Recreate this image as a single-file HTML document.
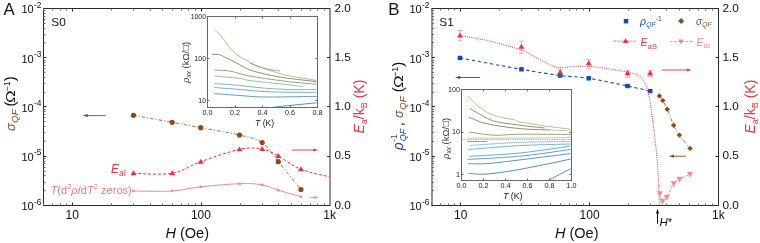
<!DOCTYPE html>
<html><head><meta charset="utf-8"><style>
html,body{margin:0;padding:0;background:#fff;width:760px;height:243px;overflow:hidden;}
svg text{font-family:"Liberation Sans", sans-serif;}
svg{will-change:transform;}
</style></head><body>
<svg width="760" height="243" viewBox="0 0 760 243" style="display:block" font-family='"Liberation Sans", sans-serif'>
<rect width="760" height="243" fill="#fff"/>
<path d="M43,8.5 H330 M43.5,8.5 V205.5 M43,205.5 H330" stroke="#2b2b2b" stroke-width="1" fill="none"/>
<path d="M330,8 V206" stroke="#2b2b2b" stroke-width="1" fill="none"/>
<path d="M43.5,8.5 h3 M43.5,57.5 h3 M43.5,106.5 h3 M43.5,156.5 h3 M43.5,205.5 h3 M330,205.5 h-3 M330,156.5 h-3 M330,106.5 h-3 M330,57.5 h-3 M330,8.5 h-3 M72.5,205.5 v-3 M72.5,8.5 v3 M201.5,205.5 v-3 M201.5,8.5 v3" stroke="#2b2b2b" stroke-width="1" fill="none"/>
<path d="M43.5,42.5 h2 M43.5,34.5 h2 M43.5,28.5 h2 M43.5,23.5 h2 M43.5,19.5 h2 M43.5,16.5 h2 M43.5,13.5 h2 M43.5,10.5 h2 M43.5,92.5 h2 M43.5,83.5 h2 M43.5,77.5 h2 M43.5,72.5 h2 M43.5,68.5 h2 M43.5,65.5 h2 M43.5,62.5 h2 M43.5,60.5 h2 M43.5,141.5 h2 M43.5,132.5 h2 M43.5,126.5 h2 M43.5,121.5 h2 M43.5,117.5 h2 M43.5,114.5 h2 M43.5,111.5 h2 M43.5,109.5 h2 M43.5,190.5 h2 M43.5,182.5 h2 M43.5,175.5 h2 M43.5,171.5 h2 M43.5,167.5 h2 M43.5,163.5 h2 M43.5,161.5 h2 M43.5,158.5 h2 M43.5,205.5 v-2 M43.5,8.5 v2 M52.5,205.5 v-2 M52.5,8.5 v2 M60.5,205.5 v-2 M60.5,8.5 v2 M66.5,205.5 v-2 M66.5,8.5 v2 M111.5,205.5 v-2 M111.5,8.5 v2 M133.5,205.5 v-2 M133.5,8.5 v2 M150.5,205.5 v-2 M150.5,8.5 v2 M162.5,205.5 v-2 M162.5,8.5 v2 M172.5,205.5 v-2 M172.5,8.5 v2 M181.5,205.5 v-2 M181.5,8.5 v2 M188.5,205.5 v-2 M188.5,8.5 v2 M195.5,205.5 v-2 M195.5,8.5 v2 M240.5,205.5 v-2 M240.5,8.5 v2 M262.5,205.5 v-2 M262.5,8.5 v2 M278.5,205.5 v-2 M278.5,8.5 v2 M291.5,205.5 v-2 M291.5,8.5 v2 M301.5,205.5 v-2 M301.5,8.5 v2 M310.5,205.5 v-2 M310.5,8.5 v2 M317.5,205.5 v-2 M317.5,8.5 v2 M324.5,205.5 v-2 M324.5,8.5 v2" stroke="#6a6a6a" stroke-width="1" fill="none"/>
<text x="21.5" y="13.3" font-size="11" fill="#111">10<tspan font-size="8.4" dy="-5.6" dx="0.2">-2</tspan></text>
<text x="21.5" y="62.55" font-size="11" fill="#111">10<tspan font-size="8.4" dy="-5.6" dx="0.2">-3</tspan></text>
<text x="21.5" y="111.8" font-size="11" fill="#111">10<tspan font-size="8.4" dy="-5.6" dx="0.2">-4</tspan></text>
<text x="21.5" y="161.05" font-size="11" fill="#111">10<tspan font-size="8.4" dy="-5.6" dx="0.2">-5</tspan></text>
<text x="21.5" y="210.3" font-size="11" fill="#111">10<tspan font-size="8.4" dy="-5.6" dx="0.2">-6</tspan></text>
<text x="72.2" y="219.4" font-size="12" fill="#111" text-anchor="middle" >10</text>
<text x="200.95" y="219.4" font-size="12" fill="#111" text-anchor="middle" >100</text>
<text x="329.7" y="219.4" font-size="12" fill="#111" text-anchor="middle" >1k</text>
<text x="334.5" y="208.5" font-size="11.8" fill="#111" text-anchor="start" >0.0</text>
<text x="334.5" y="159.25" font-size="11.8" fill="#111" text-anchor="start" >0.5</text>
<text x="334.5" y="110" font-size="11.8" fill="#111" text-anchor="start" >1.0</text>
<text x="334.5" y="60.75" font-size="11.8" fill="#111" text-anchor="start" >1.5</text>
<text x="334.5" y="11.5" font-size="11.8" fill="#111" text-anchor="start" >2.0</text>
<text x="3.5" y="15" font-size="16.8" fill="#111" text-anchor="start" >A</text>
<text x="51.3" y="26.2" font-size="11.8" fill="#111" text-anchor="start" >S0</text>
<text x="165.5" y="237.5" font-size="14.5" fill="#111"><tspan font-style="italic">H</tspan> (Oe)</text>
<path d="M431.5,8.5 H718.5 M432,8.5 V205.5 M431.5,205.5 H718.5" stroke="#2b2b2b" stroke-width="1" fill="none"/>
<path d="M718.5,8 V206" stroke="#2b2b2b" stroke-width="1" fill="none"/>
<path d="M432,8.5 h3 M432,57.5 h3 M432,106.5 h3 M432,156.5 h3 M432,205.5 h3 M718.5,205.5 h-3 M718.5,156.5 h-3 M718.5,106.5 h-3 M718.5,57.5 h-3 M718.5,8.5 h-3 M460.5,205.5 v-3 M460.5,8.5 v3 M589.5,205.5 v-3 M589.5,8.5 v3" stroke="#2b2b2b" stroke-width="1" fill="none"/>
<path d="M432,42.5 h2 M432,34.5 h2 M432,28.5 h2 M432,23.5 h2 M432,19.5 h2 M432,16.5 h2 M432,13.5 h2 M432,10.5 h2 M432,92.5 h2 M432,83.5 h2 M432,77.5 h2 M432,72.5 h2 M432,68.5 h2 M432,65.5 h2 M432,62.5 h2 M432,60.5 h2 M432,141.5 h2 M432,132.5 h2 M432,126.5 h2 M432,121.5 h2 M432,117.5 h2 M432,114.5 h2 M432,111.5 h2 M432,109.5 h2 M432,190.5 h2 M432,182.5 h2 M432,175.5 h2 M432,171.5 h2 M432,167.5 h2 M432,163.5 h2 M432,161.5 h2 M432,158.5 h2 M431.5,205.5 v-2 M431.5,8.5 v2 M440.5,205.5 v-2 M440.5,8.5 v2 M448.5,205.5 v-2 M448.5,8.5 v2 M454.5,205.5 v-2 M454.5,8.5 v2 M499.5,205.5 v-2 M499.5,8.5 v2 M521.5,205.5 v-2 M521.5,8.5 v2 M538.5,205.5 v-2 M538.5,8.5 v2 M550.5,205.5 v-2 M550.5,8.5 v2 M560.5,205.5 v-2 M560.5,8.5 v2 M569.5,205.5 v-2 M569.5,8.5 v2 M576.5,205.5 v-2 M576.5,8.5 v2 M583.5,205.5 v-2 M583.5,8.5 v2 M628.5,205.5 v-2 M628.5,8.5 v2 M650.5,205.5 v-2 M650.5,8.5 v2 M666.5,205.5 v-2 M666.5,8.5 v2 M679.5,205.5 v-2 M679.5,8.5 v2 M689.5,205.5 v-2 M689.5,8.5 v2 M698.5,205.5 v-2 M698.5,8.5 v2 M705.5,205.5 v-2 M705.5,8.5 v2 M712.5,205.5 v-2 M712.5,8.5 v2" stroke="#6a6a6a" stroke-width="1" fill="none"/>
<text x="409.5" y="13.3" font-size="11" fill="#111">10<tspan font-size="8.4" dy="-5.6" dx="0.2">-2</tspan></text>
<text x="409.5" y="62.55" font-size="11" fill="#111">10<tspan font-size="8.4" dy="-5.6" dx="0.2">-3</tspan></text>
<text x="409.5" y="111.8" font-size="11" fill="#111">10<tspan font-size="8.4" dy="-5.6" dx="0.2">-4</tspan></text>
<text x="409.5" y="161.05" font-size="11" fill="#111">10<tspan font-size="8.4" dy="-5.6" dx="0.2">-5</tspan></text>
<text x="409.5" y="210.3" font-size="11" fill="#111">10<tspan font-size="8.4" dy="-5.6" dx="0.2">-6</tspan></text>
<text x="460.8" y="219.4" font-size="12" fill="#111" text-anchor="middle" >10</text>
<text x="589.55" y="219.4" font-size="12" fill="#111" text-anchor="middle" >100</text>
<text x="718.3" y="219.4" font-size="12" fill="#111" text-anchor="middle" >1k</text>
<text x="722.5" y="208.5" font-size="11.8" fill="#111" text-anchor="start" >0.0</text>
<text x="722.5" y="159.25" font-size="11.8" fill="#111" text-anchor="start" >0.5</text>
<text x="722.5" y="110" font-size="11.8" fill="#111" text-anchor="start" >1.0</text>
<text x="722.5" y="60.75" font-size="11.8" fill="#111" text-anchor="start" >1.5</text>
<text x="722.5" y="11.5" font-size="11.8" fill="#111" text-anchor="start" >2.0</text>
<text x="388.2" y="15" font-size="16.8" fill="#111" text-anchor="start" >B</text>
<text x="439.3" y="26.2" font-size="11.8" fill="#111" text-anchor="start" >S1</text>
<text x="555" y="237.5" font-size="14.5" fill="#111"><tspan font-style="italic">H</tspan> (Oe)</text>
<text transform="translate(15,131) rotate(-90)" font-size="15" fill="#111"><tspan fill="#8a4a1c" font-style="italic" font-size="12.8">σ</tspan><tspan fill="#8a4a1c" font-size="9.8" dy="3" dx="0.3" font-style="italic">QF</tspan><tspan dy="-3" dx="-1.2"> (</tspan></text>
<text transform="translate(15,103) rotate(-90) scale(1.25,1)" font-size="13.5" fill="#111">Ω</text>
<text transform="translate(15,91.5) rotate(-90)" font-size="15" fill="#111"><tspan font-size="9" dy="-5.5">−1</tspan><tspan dy="5.5">)</tspan></text>
<text transform="translate(364,133.5) rotate(-90)" font-size="14" fill="#f0303c"><tspan font-style="italic">E</tspan><tspan font-size="9" dy="3">a</tspan><tspan dy="-3">/k</tspan><tspan font-size="9" dy="3">B</tspan><tspan dy="-3"> (K)</tspan></text>
<text transform="translate(754.5,133.5) rotate(-90)" font-size="14" fill="#f0303c"><tspan font-style="italic">E</tspan><tspan font-size="9" dy="3">a</tspan><tspan dy="-3">/k</tspan><tspan font-size="9" dy="3">B</tspan><tspan dy="-3"> (K)</tspan></text>
<text transform="translate(403,150.3) rotate(-90)" font-size="15" fill="#111"><tspan fill="#1a48b4" font-style="italic" font-size="13.8">ρ</tspan><tspan fill="#1a48b4" font-size="9" dy="-6" dx="0.5">-1</tspan><tspan fill="#1a48b4" font-size="9" dx="-7.3" dy="9" font-style="italic">QF</tspan><tspan dy="-3" dx="-1.8"> , </tspan><tspan fill="#8a4a1c" font-style="italic" font-size="12.8">σ</tspan><tspan fill="#8a4a1c" font-size="9.8" dy="3" dx="0.3" font-style="italic">QF</tspan><tspan dy="-3" dx="-0.2"> (</tspan></text>
<text transform="translate(403,87.9) rotate(-90) scale(1.25,1)" font-size="13.5" fill="#111">Ω</text>
<text transform="translate(403,77) rotate(-90)" font-size="15" fill="#111"><tspan font-size="9" dy="-5.5">−1</tspan><tspan dy="5.5">)</tspan></text>
<path d="M133.43,191 C139.89,191 160.97,191.7 172.19,191 C183.41,190.3 189.53,188.02 200.75,186.8 C211.97,185.58 229.27,184.03 239.51,183.7 C249.75,183.37 255.72,183.72 262.18,184.8 C268.64,185.88 271.81,188.22 278.27,190.2 C284.72,192.18 297.16,195.62 300.94,196.7" stroke="#f58a8a" stroke-width="1" fill="none"/>
<rect x="132.23" y="189.8" width="2.4" height="2.4" fill="#f58a8a"/>
<rect x="170.99" y="189.8" width="2.4" height="2.4" fill="#f58a8a"/>
<rect x="199.55" y="185.6" width="2.4" height="2.4" fill="#f58a8a"/>
<rect x="238.31" y="182.5" width="2.4" height="2.4" fill="#f58a8a"/>
<rect x="260.98" y="183.6" width="2.4" height="2.4" fill="#f58a8a"/>
<rect x="277.07" y="189" width="2.4" height="2.4" fill="#f58a8a"/>
<rect x="299.74" y="195.5" width="2.4" height="2.4" fill="#f58a8a"/>
<path d="M133.43,173.3 C139.89,173.3 160.97,175.23 172.19,173.3 C183.41,171.37 189.53,165.68 200.75,161.7 C211.97,157.72 229.27,151.52 239.51,149.4 C249.75,147.28 255.72,147.9 262.18,149 C268.64,150.1 271.81,152.62 278.27,156 C284.72,159.38 292.4,165.83 300.94,169.3 C309.48,172.77 324.74,175.55 329.5,176.8" stroke="#f0303c" stroke-width="1" fill="none" stroke-dasharray="3,1.9"/>
<path d="M133.43,170.35 L136.43,175.27 L130.43,175.27 Z" fill="#f0303c"/>
<path d="M172.19,170.35 L175.19,175.27 L169.19,175.27 Z" fill="#f0303c"/>
<path d="M200.75,158.75 L203.75,163.67 L197.75,163.67 Z" fill="#f0303c"/>
<path d="M239.51,146.45 L242.51,151.37 L236.51,151.37 Z" fill="#f0303c"/>
<path d="M262.18,146.05 L265.18,150.97 L259.18,150.97 Z" fill="#f0303c"/>
<path d="M278.27,153.05 L281.27,157.97 L275.27,157.97 Z" fill="#f0303c"/>
<path d="M300.94,166.35 L303.94,171.27 L297.94,171.27 Z" fill="#f0303c"/>
<path d="M133.43,115.3 C139.89,116.47 160.97,120.23 172.19,122.3 C183.41,124.37 189.53,125.58 200.75,127.7 C211.97,129.82 229.27,132.52 239.51,135 C249.75,137.48 255.72,138.15 262.18,142.6 C268.64,147.05 271.81,153.88 278.27,161.7 C284.72,169.52 297.16,184.87 300.94,189.5" stroke="#8a4a1c" stroke-width="0.8" fill="none" stroke-dasharray="3.5,2,1,2"/>
<circle cx="133.43" cy="115.3" r="2.6" fill="#8a4a1c"/>
<circle cx="172.19" cy="122.3" r="2.6" fill="#8a4a1c"/>
<circle cx="200.75" cy="127.7" r="2.6" fill="#8a4a1c"/>
<circle cx="239.51" cy="135" r="2.6" fill="#8a4a1c"/>
<circle cx="262.18" cy="142.6" r="2.6" fill="#8a4a1c"/>
<circle cx="278.27" cy="161.7" r="2.6" fill="#8a4a1c"/>
<circle cx="300.94" cy="189.5" r="2.6" fill="#8a4a1c"/>
<path d="M105.6,115.6 H85.8" stroke="#8a4a1c" stroke-width="0.9"/>
<path d="M82.8,115.6 L87.8,114 L87.8,117.2 Z" fill="#8a4a1c"/>
<path d="M291.7,150 H315.3" stroke="#f0303c" stroke-width="0.9"/>
<path d="M318.3,150 L313.3,148.4 L313.3,151.6 Z" fill="#f0303c"/>
<path d="M309,197.4 H316" stroke="#f58a8a" stroke-width="0.9"/>
<path d="M318.4,197.4 L314.4,195.9 L314.4,198.9 Z" fill="#f58a8a"/>
<text x="111" y="172.8" font-size="12" fill="#f0303c"><tspan font-style="italic">E</tspan><tspan font-size="8.5" dy="2.8">aI</tspan></text>
<text x="50.5" y="194" font-size="11.1" fill="#f07878"><tspan font-style="italic">T</tspan>(d<tspan font-size="7.5" dy="-5">2</tspan><tspan font-style="italic" dy="5">ρ</tspan>/d<tspan font-style="italic">T</tspan><tspan font-size="7.5" dy="-5">2</tspan><tspan dy="5"> zeros)</tspan></text>
<rect x="207.5" y="16.5" width="110" height="91" fill="#fff" stroke="#6a6a6a" stroke-width="1"/>
<path d="M207.5,107.5 v-2 M207.5,16.5 v2 M235.5,107.5 v-2 M235.5,16.5 v2 M262.5,107.5 v-2 M262.5,16.5 v2 M290.5,107.5 v-2 M290.5,16.5 v2 M317.5,107.5 v-2 M317.5,16.5 v2 M207.5,16.5 h2 M317.5,16.5 h-2 M207.5,58.5 h2 M317.5,58.5 h-2 M207.5,100.5 h2 M317.5,100.5 h-2" stroke="#6a6a6a" stroke-width="1" fill="none"/>
<text x="206" y="18.5" font-size="6.9" fill="#222" text-anchor="end" >1000</text>
<text x="206" y="60.6" font-size="6.9" fill="#222" text-anchor="end" >100</text>
<text x="206" y="102.7" font-size="6.9" fill="#222" text-anchor="end" >10</text>
<text x="207.5" y="115.3" font-size="7.2" fill="#222" text-anchor="middle" >0.0</text>
<text x="235" y="115.3" font-size="7.2" fill="#222" text-anchor="middle" >0.2</text>
<text x="262.5" y="115.3" font-size="7.2" fill="#222" text-anchor="middle" >0.4</text>
<text x="290" y="115.3" font-size="7.2" fill="#222" text-anchor="middle" >0.6</text>
<text x="317.5" y="115.3" font-size="7.2" fill="#222" text-anchor="middle" >0.8</text>
<text x="255" y="126" font-size="8.6" fill="#222"><tspan font-style="italic">T</tspan> (K)</text>
<text transform="translate(189,83) rotate(-90)" font-size="9.5" fill="#333"><tspan font-style="italic">ρ</tspan><tspan font-size="6.5" dy="2" font-style="italic">xx</tspan><tspan dy="-2"> (kΩ/□)</tspan></text>
<path d="M214.7,30.1 C215.43,30.75 217.43,32.23 219.1,34 C220.77,35.77 222.98,38.48 224.7,40.7 C226.42,42.92 227.13,44.78 229.4,47.3 C231.67,49.82 234.97,53.38 238.3,55.8 C241.63,58.22 246.33,60.13 249.4,61.8 C252.47,63.47 252.9,64.23 256.7,65.8 C260.5,67.37 267.32,69.63 272.2,71.2 C277.08,72.77 278.62,73.67 286,75.2 C293.38,76.73 311.42,79.53 316.5,80.4" stroke="#a8a060" stroke-width="0.75" fill="none"/>
<path d="M250,63.3 C252.4,64.13 259.4,67 264.4,68.3 C269.4,69.6 277.4,70.63 280,71.1" stroke="#8a8a80" stroke-width="0.75" fill="none"/>
<path d="M211.7,54.4 C212.98,54.45 216.82,54.03 219.4,54.7 C221.98,55.37 224.43,57.07 227.2,58.4 C229.97,59.73 232.2,60.77 236,62.7 C239.8,64.63 244.88,68.05 250,70 C255.12,71.95 260.7,73.07 266.7,74.4 C272.7,75.73 277.7,76.8 286,78 C294.3,79.2 311.42,81 316.5,81.6" stroke="#6e6a40" stroke-width="0.75" fill="none"/>
<path d="M214.3,70.1 C216.92,70.27 224.05,70.1 230,71.1 C235.95,72.1 240.67,74.4 250,76.1 C259.33,77.8 274.92,79.93 286,81.3 C297.08,82.67 311.42,83.8 316.5,84.3" stroke="#6a8a50" stroke-width="0.75" fill="none"/>
<path d="M214.5,76 C218.75,76.42 234.08,77.73 240,78.5 C245.92,79.27 242.33,79.6 250,80.6 C257.67,81.6 277.18,83.5 286,84.5 C294.82,85.5 300.08,86.25 302.9,86.6" stroke="#8a9a8a" stroke-width="0.75" fill="none"/>
<path d="M214.5,83.5 C218.75,83.83 231.63,84.72 240,85.5 C248.37,86.28 256.17,87.52 264.7,88.2 C273.23,88.88 282.57,89.4 291.2,89.6 C299.83,89.8 312.28,89.43 316.5,89.4" stroke="#5a98b8" stroke-width="0.75" fill="none"/>
<path d="M214.5,87.5 C218.75,87.83 231.63,88.82 240,89.5 C248.37,90.18 255.93,91.13 264.7,91.6 C273.47,92.07 283.97,92.18 292.6,92.3 C301.23,92.42 312.52,92.3 316.5,92.3" stroke="#4a90c0" stroke-width="0.75" fill="none"/>
<path d="M214.5,93.6 C218.75,93.92 231.63,94.93 240,95.5 C248.37,96.07 251.95,96.85 264.7,97 C277.45,97.15 307.87,96.5 316.5,96.4" stroke="#2a78c0" stroke-width="0.75" fill="none"/>
<path d="M272,107.5 C273.4,107.33 272.98,107.28 280.4,106.5 C287.82,105.72 310.48,103.42 316.5,102.8" stroke="#2060b0" stroke-width="0.75" fill="none"/>
<path d="M460,58 C470.24,59.88 504.73,66.38 521.43,69.3 C538.13,72.22 548.97,74 560.19,75.5 C571.41,77 577.53,76.55 588.75,78.3 C599.97,80.05 617.27,83.87 627.51,86 C637.75,88.13 646.4,90.25 650.18,91.1" stroke="#1a48b4" stroke-width="1.1" fill="none" stroke-dasharray="3.3,2.8"/>
<rect x="457.7" y="55.8" width="4.6" height="4.4" fill="#1a48b4"/>
<rect x="519.13" y="67.1" width="4.6" height="4.4" fill="#1a48b4"/>
<rect x="557.89" y="73.3" width="4.6" height="4.4" fill="#1a48b4"/>
<rect x="586.45" y="76.1" width="4.6" height="4.4" fill="#1a48b4"/>
<rect x="625.21" y="83.8" width="4.6" height="4.4" fill="#1a48b4"/>
<rect x="647.88" y="88.9" width="4.6" height="4.4" fill="#1a48b4"/>
<path d="M460.5,35.5 C465.42,36.43 479.9,38.68 490,41.1 C500.1,43.52 513.7,47.4 521.1,50 C528.5,52.6 530.42,54.67 534.4,56.7 C538.38,58.73 541.07,60.4 545,62.2 C548.93,64 553,66.82 558,67.5 C563,68.18 569.67,66.47 575,66.3 C580.33,66.13 585,66.18 590,66.5 C595,66.82 598.7,67.25 605,68.2 C611.3,69.15 622.52,71.13 627.8,72.2 C633.08,73.27 634.12,73.3 636.7,74.6 C639.28,75.9 641.28,76.6 643.3,80 C645.32,83.4 647.22,88.05 648.8,95 C650.38,101.95 651.58,112.7 652.8,121.7 C654.02,130.7 655.15,139.28 656.1,149 C657.05,158.72 657.95,170.67 658.5,180 C659.05,189.33 659.25,200.83 659.4,205" stroke="#f0303c" stroke-width="1" fill="none" stroke-dasharray="1,1.2"/>
<path d="M460,30.5 V40.7 M457.5,30.5 h5 M457.5,40.7 h5" stroke="#f0303c" stroke-width="0.7" fill="none" opacity="0.6"/>
<path d="M460,32.55 L463,37.47 L457,37.47 Z" fill="#f0303c"/>
<path d="M521.43,41.1 V53.3 M518.93,41.1 h5 M518.93,53.3 h5" stroke="#f0303c" stroke-width="0.7" fill="none" opacity="0.6"/>
<path d="M521.43,43.75 L524.43,48.67 L518.43,48.67 Z" fill="#f0303c"/>
<path d="M560.19,69.5 V75.5 M557.69,69.5 h5 M557.69,75.5 h5" stroke="#f0303c" stroke-width="0.7" fill="none" opacity="0.6"/>
<path d="M560.19,69.25 L563.19,74.17 L557.19,74.17 Z" fill="#f0303c"/>
<path d="M588.75,59.4 V68.9 M586.25,59.4 h5 M586.25,68.9 h5" stroke="#f0303c" stroke-width="0.7" fill="none" opacity="0.6"/>
<path d="M588.75,60.35 L591.75,65.27 L585.75,65.27 Z" fill="#f0303c"/>
<path d="M627.51,70.6 V77.2 M625.01,70.6 h5 M625.01,77.2 h5" stroke="#f0303c" stroke-width="0.7" fill="none" opacity="0.6"/>
<path d="M627.51,70.35 L630.51,75.27 L624.51,75.27 Z" fill="#f0303c"/>
<path d="M650.18,70.6 V76.5 M647.68,70.6 h5 M647.68,76.5 h5" stroke="#f0303c" stroke-width="0.7" fill="none" opacity="0.6"/>
<path d="M650.18,70.35 L653.18,75.27 L647.18,75.27 Z" fill="#f0303c"/>
<path d="M659.7,193.5 C660.17,194.75 661.32,200.38 662.5,201 C663.68,201.62 664.93,200.1 666.8,197.2 C668.67,194.3 671.57,186.62 673.7,183.6 C675.83,180.58 676.88,180.65 679.6,179.1 C682.32,177.55 688.27,175.1 690,174.3" stroke="#f58a8a" stroke-width="1" fill="none" stroke-dasharray="2.5,1.5"/>
<path d="M659.7,196.92 L662.7,191.22 L656.7,191.22 Z" fill="#f58a8a"/>
<path d="M662.5,204.42 L665.5,198.72 L659.5,198.72 Z" fill="#f58a8a"/>
<path d="M666.8,200.62 L669.8,194.92 L663.8,194.92 Z" fill="#f58a8a"/>
<path d="M673.7,187.02 L676.7,181.32 L670.7,181.32 Z" fill="#f58a8a"/>
<path d="M679.6,182.52 L682.6,176.82 L676.6,176.82 Z" fill="#f58a8a"/>
<path d="M690,177.72 L693,172.02 L687,172.02 Z" fill="#f58a8a"/>
<path d="M659.4,95.9 C659.97,96.68 661.5,98.38 662.8,100.6 C664.1,102.82 665.38,105.08 667.2,109.2 C669.02,113.32 671.67,120.98 673.7,125.3 C675.73,129.62 676.68,131.25 679.4,135.1 C682.12,138.95 688.23,146.18 690,148.4" stroke="#8a4a1c" stroke-width="0.8" fill="none" stroke-dasharray="3.5,2,1,2"/>
<path d="M659.4,93.2 l2.7,2.7 l-2.7,2.7 l-2.7,-2.7 Z" fill="#8a4a1c"/>
<path d="M662.8,97.9 l2.7,2.7 l-2.7,2.7 l-2.7,-2.7 Z" fill="#8a4a1c"/>
<path d="M667.2,106.5 l2.7,2.7 l-2.7,2.7 l-2.7,-2.7 Z" fill="#8a4a1c"/>
<path d="M673.7,122.6 l2.7,2.7 l-2.7,2.7 l-2.7,-2.7 Z" fill="#8a4a1c"/>
<path d="M679.4,132.4 l2.7,2.7 l-2.7,2.7 l-2.7,-2.7 Z" fill="#8a4a1c"/>
<path d="M690,145.7 l2.7,2.7 l-2.7,2.7 l-2.7,-2.7 Z" fill="#8a4a1c"/>
<path d="M480,77.5 H458" stroke="#1a48b4" stroke-width="0.9"/>
<path d="M455,77.5 L460,75.9 L460,79.1 Z" fill="#1a48b4"/>
<path d="M661.7,70 H688.7" stroke="#f0303c" stroke-width="0.9"/>
<path d="M691.7,70 L686.7,68.4 L686.7,71.6 Z" fill="#f0303c"/>
<path d="M686.1,156.2 H671.9" stroke="#8a4a1c" stroke-width="0.9"/>
<path d="M668.9,156.2 L673.9,154.6 L673.9,157.8 Z" fill="#8a4a1c"/>
<path d="M657.5,223.8 V212" stroke="#111" stroke-width="1"/>
<path d="M657.5,208.4 L659,213.5 L656,213.5 Z" fill="#111"/>
<text x="659.5" y="226.2" font-size="11.5" fill="#111"><tspan font-style="italic">H</tspan><tspan font-size="10.5" dx="0.3">*</tspan></text>
<rect x="623.8" y="19" width="4.4" height="4.4" fill="#1a48b4"/>
<text x="640" y="25" font-size="10.5" fill="#1a48b4"><tspan font-style="italic">ρ</tspan><tspan font-size="6.6" dy="1.8" dx="0.3" font-style="italic">QF</tspan><tspan font-size="6.6" dy="-6.3" dx="0.3">-1</tspan></text>
<path d="M681.1,18.1 l3,3 l-3,3 l-3,-3 Z" fill="#8a4a1c"/>
<text x="696" y="25" font-size="10" fill="#8a4a1c"><tspan font-style="italic">σ</tspan><tspan font-size="6.8" dy="2.2" dx="0.3" font-style="italic">QF</tspan></text>
<path d="M612.8,41.1 H636.7" stroke="#f0303c" stroke-width="1" stroke-dasharray="1,1.2"/>
<path d="M625.6,38.15 L628.6,43.07 L622.6,43.07 Z" fill="#f0303c"/>
<text x="640.5" y="45.6" font-size="10.5" fill="#f0303c"><tspan font-style="italic">E</tspan><tspan font-size="7.6" dy="3" dx="0.3">aS</tspan></text>
<path d="M670,41.6 H693.3" stroke="#f58a8a" stroke-width="1" stroke-dasharray="2.5,1.5"/>
<path d="M681.1,44.46 L683.7,39.52 L678.5,39.52 Z" fill="#f58a8a"/>
<text x="696.5" y="45.6" font-size="10.5" fill="#f58a8a"><tspan font-style="italic">E</tspan><tspan font-size="8" dy="2.5">aI</tspan></text>
<rect x="461.5" y="89.5" width="110" height="91" fill="#fff" stroke="#6a6a6a" stroke-width="1"/>
<path d="M461.5,180.5 v-2 M461.5,89.5 v2 M483.5,180.5 v-2 M483.5,89.5 v2 M505.5,180.5 v-2 M505.5,89.5 v2 M527.5,180.5 v-2 M527.5,89.5 v2 M549.5,180.5 v-2 M549.5,89.5 v2 M571.5,180.5 v-2 M571.5,89.5 v2 M461.5,89.5 h2 M571.5,89.5 h-2 M461.5,132.5 h2 M571.5,132.5 h-2 M461.5,174.5 h2 M571.5,174.5 h-2" stroke="#6a6a6a" stroke-width="1" fill="none"/>
<text x="460" y="91.7" font-size="7.2" fill="#222" text-anchor="end" >100</text>
<text x="460" y="134.1" font-size="7.2" fill="#222" text-anchor="end" >10</text>
<text x="460" y="176.5" font-size="7.2" fill="#222" text-anchor="end" >1</text>
<text x="461.5" y="188" font-size="7.2" fill="#222" text-anchor="middle" >0.0</text>
<text x="483.5" y="188" font-size="7.2" fill="#222" text-anchor="middle" >0.2</text>
<text x="505.5" y="188" font-size="7.2" fill="#222" text-anchor="middle" >0.4</text>
<text x="527.5" y="188" font-size="7.2" fill="#222" text-anchor="middle" >0.6</text>
<text x="549.5" y="188" font-size="7.2" fill="#222" text-anchor="middle" >0.8</text>
<text x="571.5" y="188" font-size="7.2" fill="#222" text-anchor="middle" >1.0</text>
<text x="503" y="198.8" font-size="8.8" fill="#222"><tspan font-style="italic">T</tspan> (K)</text>
<text transform="translate(449,159) rotate(-90)" font-size="9.5" fill="#333"><tspan font-style="italic">ρ</tspan><tspan font-size="6.5" dy="2" font-style="italic">xx</tspan><tspan dy="-2"> (kΩ/□)</tspan></text>
<path d="M468.1,96.1 C469.68,97.68 473.97,102.65 477.6,105.6 C481.23,108.55 486.05,111.87 489.9,113.8 C493.75,115.73 496.63,116.18 500.7,117.2 C504.77,118.22 511.13,119.13 514.3,119.9 C517.47,120.67 514.58,120.78 519.7,121.8 C524.82,122.82 536.52,124.77 545,126 C553.48,127.23 566.33,128.67 570.6,129.2" stroke="#a8a468" stroke-width="0.75" fill="none"/>
<path d="M469.5,108.4 C471.32,109.42 476.33,112.38 480.4,114.5 C484.47,116.62 487.35,119.32 493.9,121.1 C500.45,122.88 511.2,124.05 519.7,125.2 C528.2,126.35 540.7,127.53 544.9,128" stroke="#6e6a48" stroke-width="0.75" fill="none"/>
<path d="M468.8,117.2 C471.85,118.3 478.62,121.9 487.1,123.8 C495.58,125.7 509.17,127.57 519.7,128.6 C530.23,129.63 545.2,129.77 550.3,130" stroke="#6a6a40" stroke-width="0.75" fill="none"/>
<path d="M550.3,130 C553.68,130.17 567.22,130.83 570.6,131" stroke="#a8b890" stroke-width="0.75" fill="none"/>
<path d="M468.8,132 C472.98,132.53 485.42,134.83 493.9,135.2 C502.38,135.57 506.92,134.32 519.7,134.2 C532.48,134.08 562.12,134.45 570.6,134.5" stroke="#6a8a50" stroke-width="0.75" fill="none"/>
<path d="M467.5,138.1 C476.2,138.08 502.52,138.1 519.7,138 C536.88,137.9 562.12,137.58 570.6,137.5" stroke="#a8c898" stroke-width="0.75" fill="none"/>
<path d="M467.5,141.4 C470.77,141.4 483.83,141.4 487.1,141.4" stroke="#5a7a60" stroke-width="0.75" fill="none"/>
<path d="M469.5,145.4 C477.87,144.9 502.85,143.05 519.7,142.4 C536.55,141.75 562.12,141.65 570.6,141.5" stroke="#6ab0d8" stroke-width="0.75" fill="none"/>
<path d="M468.1,149.5 C476.7,148.85 502.62,146.52 519.7,145.6 C536.78,144.68 562.12,144.27 570.6,144" stroke="#4a98c8" stroke-width="0.75" fill="none"/>
<path d="M469.5,156.3 C477.87,155.75 502.85,154.7 519.7,153 C536.55,151.3 562.12,147.25 570.6,146.1" stroke="#3a90c8" stroke-width="0.75" fill="none"/>
<path d="M467.5,159.4 C476.2,158.87 502.52,157.85 519.7,156.2 C536.88,154.55 562.12,150.62 570.6,149.5" stroke="#2a80c0" stroke-width="0.75" fill="none"/>
<path d="M468.1,163.6 C471.27,163.6 478.5,164.22 487.1,163.6 C495.7,162.98 505.78,161.57 519.7,159.9 C533.62,158.23 562.12,154.65 570.6,153.6" stroke="#2070b8" stroke-width="0.75" fill="none"/>
<path d="M468.1,173.3 C471.27,173.42 478.5,174.65 487.1,174 C495.7,173.35 505.78,171.88 519.7,169.4 C533.62,166.92 562.12,160.82 570.6,159.1" stroke="#1a68b0" stroke-width="0.75" fill="none"/>
<path d="M548.9,180 C552.52,178.13 566.98,170.67 570.6,168.8" stroke="#2a70c8" stroke-width="0.75" fill="none"/>
<path d="M462,139.3 H571" stroke="#f0303c" stroke-width="0.8" stroke-dasharray="1,1.3"/>
</svg>
</body></html>
